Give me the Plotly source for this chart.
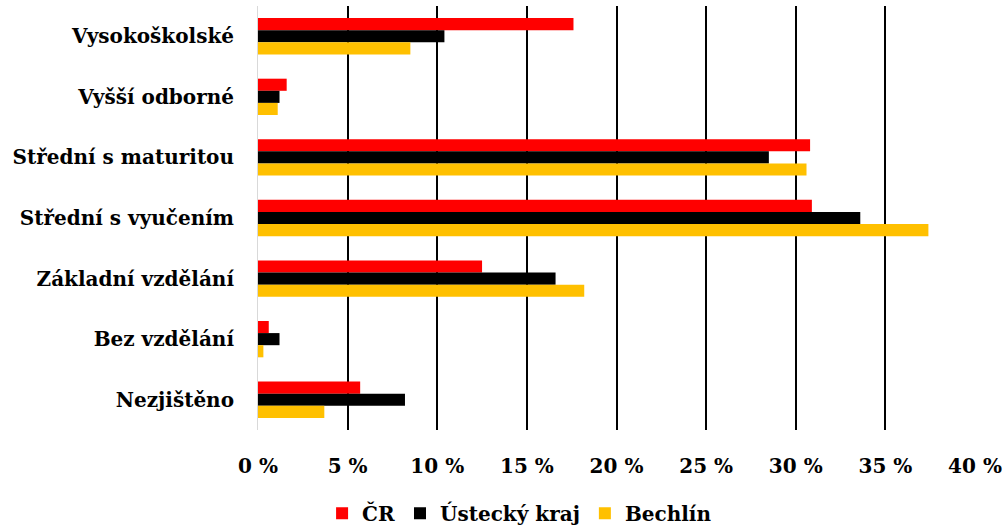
import plotly.graph_objects as go

categories = ["Vysokoškolské", "Vyšší odborné", "Střední s maturitou", "Střední s vyučením",
              "Základní vzdělání", "Bez vzdělání", "Nezjištěno"]
cr = [17.6, 1.6, 30.8, 30.9, 12.5, 0.6, 5.7]
ustecky = [10.4, 1.2, 28.5, 33.6, 16.6, 1.2, 8.2]
bechlin = [8.5, 1.1, 30.6, 37.4, 18.2, 0.3, 3.7]
tick_vals = [0, 5, 10, 15, 20, 25, 30, 35, 40]
tick_text = ["0 %", "5 %", "10 %", "15 %", "20 %", "25 %", "30 %", "35 %", "40 %"]

FONT = "DejaVu Serif"
FS = 20

fig = go.Figure()
for name, vals, col in [("ČR", cr, "#FF0000"), ("Ústecký kraj", ustecky, "#000000"),
                        ("Bechlín", bechlin, "#FFC000")]:
    fig.add_trace(go.Bar(y=categories, x=vals, name=name, orientation="h",
                         marker=dict(color=col, line=dict(width=0))))

fig.update_layout(
    width=1005, height=528,
    barmode="group", bargap=0.4, bargroupgap=0,
    plot_bgcolor="white", paper_bgcolor="white",
    margin=dict(l=258, r=30, t=6, b=98),
    font=dict(family=FONT, size=FS, color="black"),
    showlegend=True,
    legend=dict(orientation="h", x=0.517, xanchor="center",
                xref="container", yref="container", y=0.028, yanchor="middle",
                font=dict(family=FONT, size=FS, color="black", weight="bold"),
                traceorder="normal", itemwidth=30),
    xaxis=dict(range=[0, 40], tickvals=tick_vals, ticktext=tick_text,
               showgrid=True, gridcolor="black", gridwidth=2,
               zeroline=False, showline=False, automargin=False,
               tickfont=dict(family=FONT, size=FS, color="black", weight="bold"),
               ticklabelstandoff=22),
    yaxis=dict(autorange="reversed", showline=True, linecolor="#d9d9d9", linewidth=1,
               automargin=False,
               tickfont=dict(family=FONT, size=FS, color="black", weight="bold"),
               ticklabelstandoff=19),
)

fig.write_html("out.html", config={"displayModeBar": False},
               post_script="document.body.style.margin='0px';")
